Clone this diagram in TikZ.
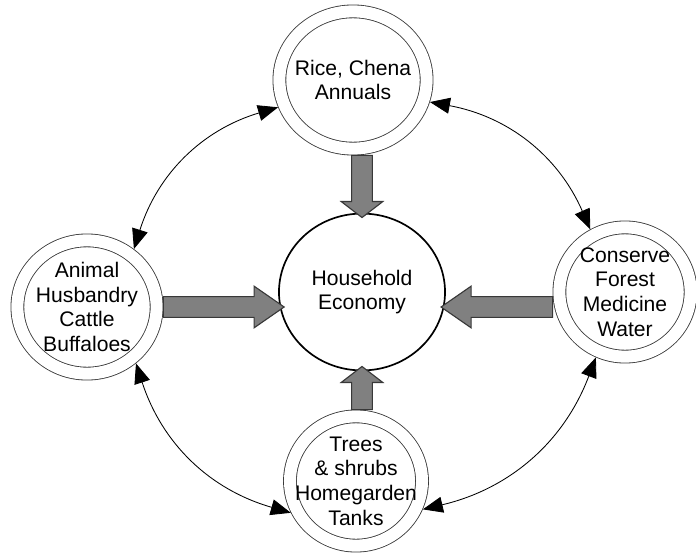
\documentclass[tikz,border=0pt]{standalone}
\usepackage{fontspec}
\setmainfont{Liberation Sans}
\usetikzlibrary{shapes.geometric, arrows.meta, calc}

\definecolor{arrowgray}{HTML}{808080}
\definecolor{edgegray}{HTML}{383838}

% half widths of the fat arrows
\def\shaftw{0.26cm}
\def\headw{0.52cm}

% fat arrow: start, tip, head length
\newcommand{\fatarrow}[3]{%
  \coordinate (fa-s) at (#1);
  \coordinate (fa-t) at (#2);
  \coordinate (fa-h) at ($(fa-t)!#3!(fa-s)$);
  \draw[fat arrow] ($(fa-s)!\shaftw!90:(fa-t)$) -- ($(fa-h)!\shaftw!-90:(fa-s)$)
    -- ($(fa-h)!\headw!-90:(fa-s)$) -- (fa-t) -- ($(fa-h)!\headw!90:(fa-s)$)
    -- ($(fa-h)!\shaftw!90:(fa-s)$) -- ($(fa-s)!\shaftw!-90:(fa-t)$) -- cycle;
}

\begin{document}
\begin{tikzpicture}[x=0.025cm, y=-0.025cm,
        ring/.style={ellipse, draw=edgegray, line width=0.6pt, double, double distance=0.3cm,
            outer sep=0.17cm, inner sep=0pt},
        ring text/.style={align=center, font=\fontsize{15}{17.5}\selectfont, inner sep=0pt},
        core/.style={ellipse, draw, line width=1.2pt, align=center, inner sep=0pt,
            minimum width=4.15cm, minimum height=3.92cm, font=\fontsize{15}{17.5}\selectfont},
        link/.style={<->, >={Triangle[length=0.5cm, width=0.4cm]}, line width=0.6pt, draw=black},
        fat arrow/.style={fill=arrowgray, draw=edgegray, line width=0.8pt, line join=miter}
    ]

    \useasboundingbox (0,0) rectangle (696,558);

    % Centre of the cycle
    \node[core] (hh) at (362,292) {Household\\Economy};

    % The four land uses round it
    \node[ring, minimum width=3.68cm, minimum height=3.43cm,
        label={[ring text]center:{Rice, Chena\\Annuals}}] (rice) at (353,80) {};
    \node[ring, minimum width=3.48cm, minimum height=3.33cm,
        label={[ring text]center:{Animal\\Husbandry\\Cattle\\Buffaloes}}] (ani) at (87,307) {};
    \node[ring, minimum width=3.28cm, minimum height=3.23cm,
        label={[ring text]center:{Conserve\\Forest\\Medicine\\Water}}] (cons) at (625,292) {};
    \node[ring, minimum width=3.3cm, minimum height=3.23cm,
        label={[ring text]center:{Trees\\\& shrubs\\Homegarden\\Tanks}}] (trees) at (356,481) {};

    % Flows into the household
    \fatarrow{hh.north |- rice.south}{[yshift=-0.12cm]hh.north}{0.4cm}
    \fatarrow{hh.south |- trees.north}{[yshift=0.12cm]hh.south}{0.4cm}
    \fatarrow{ani.east}{[xshift=0.15cm]ani.east -| hh.west}{0.75cm}
    \fatarrow{cons.west |- ani.east}{[xshift=-0.12cm]ani.east -| hh.east}{0.75cm}

    % Links between neighbours
    \draw[link] (ani.51) to[bend left=28] (rice.200);
    \draw[link] (rice.344) to[bend left=28] (cons.119);
    \draw[link] (cons.246) to[bend left=28] (trees.337);
    \draw[link] (trees.206) to[bend left=28] (ani.311);

\end{tikzpicture}
\end{document}
